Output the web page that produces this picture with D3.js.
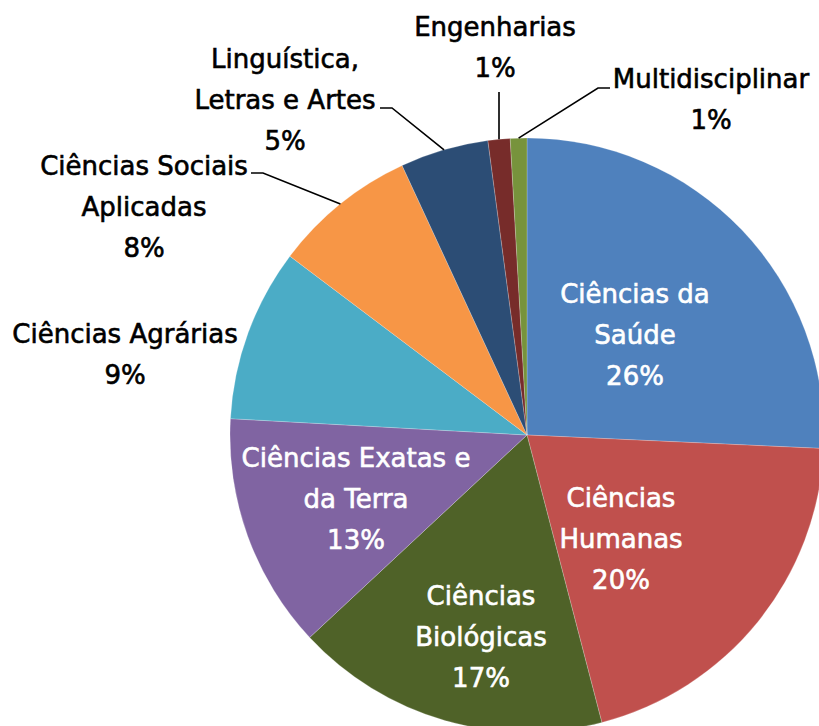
<!DOCTYPE html>
<html>
<head>
<meta charset="utf-8">
<script src="https://cdn.jsdelivr.net/npm/d3@7"></script>
<style>
	html, body { margin: 0; padding: 0; background: #fff; }
	svg { display: block; }
	text { font-family: "DejaVu Sans", Verdana, sans-serif; font-size: 26px; }
</style>
</head>
<body>
<svg id="chart" width="819" height="726"></svg>
<script>
// areas, clockwise from 12 o'clock
var categories = [
	["Ciências da", "Saúde"],
	["Ciências", "Humanas"],
	["Ciências", "Biológicas"],
	["Ciências Exatas e", "da Terra"],
	["Ciências Agrárias"],
	["Ciências Sociais", "Aplicadas"],
	["Linguística,", "Letras e Artes"],
	["Engenharias"],
	["Multidisciplinar"]
];
var values = [25.7, 20.2, 17.1, 12.8, 9.4, 7.8, 4.8, 1.2, 0.9];
var colors = ["#4f81bd", "#c0504d", "#4f6228", "#8064a2", "#4bacc6", "#f79646", "#2c4d75", "#772c2a", "#77933c"];

// label layout: center x, first baseline, inside or outside, leader elbow
var labelPos = [
	{x: 635, y: 303, inside: true},
	{x: 621, y: 507, inside: true},
	{x: 481, y: 605, inside: true},
	{x: 356, y: 467, inside: true},
	{x: 125, y: 343, inside: false},
	{x: 144, y: 175, inside: false, lead: [[251, 173], [263, 173]]},
	{x: 285, y: 68, inside: false, lead: [[380, 108], [392, 108]]},
	{x: 495, y: 36, inside: false, lead: [[499, 92]]},
	{x: 711, y: 88, inside: false, lead: [[610, 88], [598, 88]]}
];
var lineHeight = 41;

var cx = 527, cy = 435, radius = 297;

var svg = d3.select("#chart");
var g = svg.append("g").attr("transform", "translate(" + cx + "," + cy + ")");

var pie = d3.pie().sort(null).value(function(d) { return d; });
var arcs = pie(values);
var arc = d3.arc().innerRadius(0).outerRadius(radius);

g.selectAll("path.slice")
	.data(arcs)
	.enter().append("path")
	.attr("class", "slice")
	.attr("d", arc)
	.attr("fill", function(d, i) { return colors[i]; })
	.attr("stroke", "#ffffff")
	.attr("stroke-opacity", 0.35)
	.attr("stroke-width", 0.6);

// leader lines from the slice edge to the label
arcs.forEach(function(d, i) {
	var p = labelPos[i];
	if (!p.lead) return;
	var a = (d.startAngle + d.endAngle) / 2;
	var edge = [cx + radius * Math.sin(a), cy - radius * Math.cos(a)];
	var pts = [edge];
	// elbow list is given from label side; walk it backwards from the pie
	for (var k = p.lead.length - 1; k >= 0; k--) pts.push(p.lead[k]);
	svg.append("path")
		.attr("d", d3.line()(pts))
		.attr("fill", "none")
		.attr("stroke", "#000")
		.attr("stroke-width", 1.6);
});

arcs.forEach(function(d, i) {
	var p = labelPos[i];
	var lines = categories[i].concat([Math.round(values[i]) + "%"]);
	var col = p.inside ? "#ffffff" : "#000000";
	var t = svg.append("text")
		.attr("text-anchor", "middle")
		.attr("fill", col)
		.attr("stroke", col)
		.attr("stroke-width", 0.6);
	lines.forEach(function(s, k) {
		t.append("tspan")
			.attr("x", p.x)
			.attr("y", p.y + k * lineHeight)
			.text(s);
	});
});
</script>
</body>
</html>
